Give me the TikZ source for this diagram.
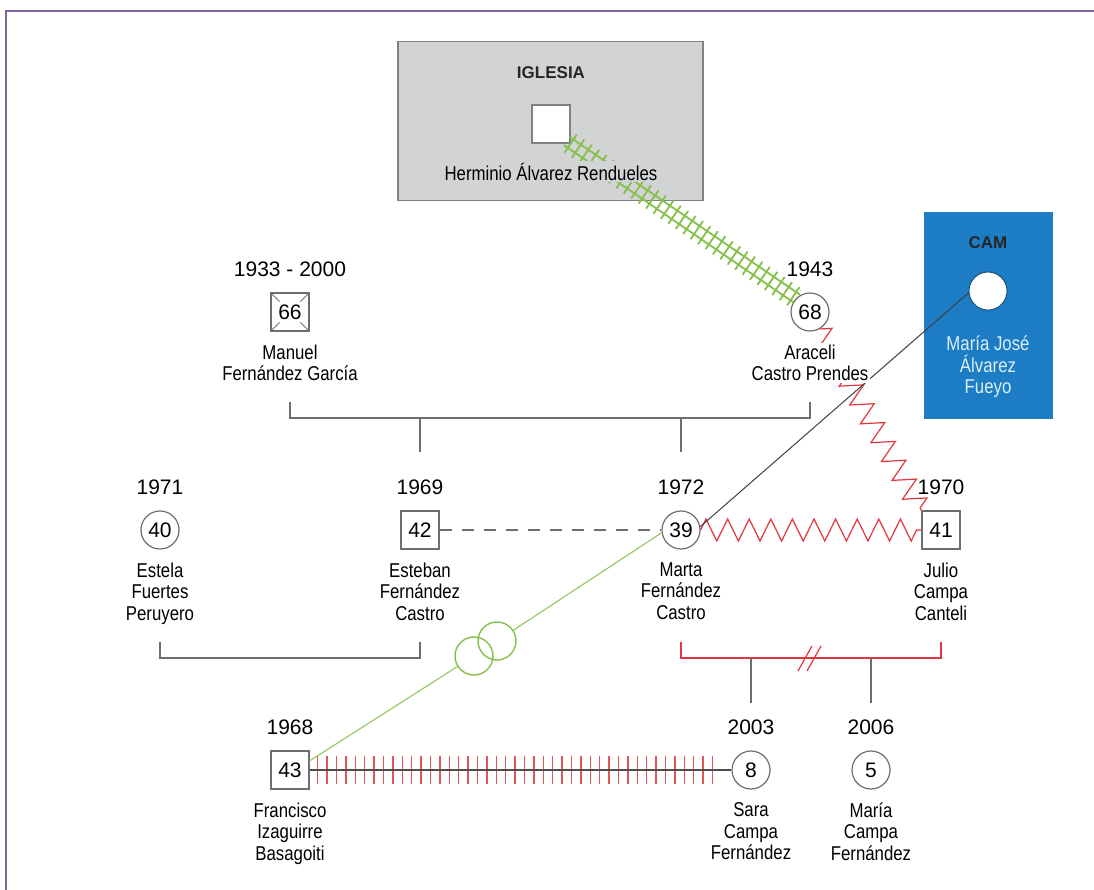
\documentclass[tikz,border=0pt]{standalone}
\usepackage{fontspec}
\setmainfont{Liberation Sans}
\newfontfamily\namefont[FakeStretch=0.84]{Liberation Sans}
\usetikzlibrary{positioning,calc,decorations.pathmorphing,decorations.markings}

\definecolor{framepurple}{HTML}{8064A2}
\definecolor{linegray}{HTML}{6D6E71}
\definecolor{boxgray}{HTML}{D1D3D4}
\definecolor{boxedge}{HTML}{808285}
\definecolor{camblue}{HTML}{1C7DC4}
\definecolor{camtext}{HTML}{DCEEFA}
\definecolor{linkred}{HTML}{E2363D}
\definecolor{linkgreen}{HTML}{86C04A}

\tikzset{
	person/.style={draw=linegray,line width=0.6pt,fill=white,inner sep=0pt,font=\fontsize{10.5}{12}\selectfont},
	male/.style={person,rectangle,minimum size=19pt},
	female/.style={person,circle,minimum size=19pt},
	deceased/.style={male,path picture={
		\foreach \c in {north west,north east,south east,south west}
			\draw [linegray,line width=0.5pt] (path picture bounding box.\c) -- ($(path picture bounding box.\c)!0.45!(path picture bounding box.center)$);}},
	year/.style={inner sep=0pt,font=\fontsize{10.5}{12}\selectfont},
	persname/.style={inner sep=1pt,fill=white,align=center,font=\namefont\fontsize{10}{10.75}\selectfont},
	institution/.style={rectangle,inner sep=0pt},
	boxtitle/.style={inner sep=0pt,text=black!85,font=\bfseries\fontsize{8.5}{10}\selectfont},
	famline/.style={draw=linegray,line width=0.6pt},
	conflict/.style={draw=linkred,line width=0.6pt,decorate,decoration={zigzag,segment length=10.8pt,amplitude=5.5pt}},
	distant/.style={draw=linegray,line width=0.6pt,dash pattern=on 6pt off 5pt},
	contact/.style={draw=black!75,line width=0.5pt},
	bond/.style={draw=linkgreen!85,line width=0.6pt},
	ring/.style={circle,draw=linkgreen,line width=0.7pt,minimum size=19pt,inner sep=0pt},
	hatched/.style={decorate,decoration={markings,
		mark=between positions 0 and 1 step 4.5pt with {
			\draw [linkgreen,line width=0.9pt] (-2.3pt,-2.5pt) -- (2.3pt,-2.5pt) (-2.3pt,2.5pt) -- (2.3pt,2.5pt) (0,-5.5pt) -- (0,5.5pt);}}},
	abuse/.style={draw=black!70,line width=0.6pt,
		preaction={decorate,decoration={markings,
			mark=between positions 4pt and -5pt step 4.7pt with {\draw [linkred!85,line width=0.7pt] (0,-7pt) -- (0,7pt);}}}}
}

\begin{document}
\begin{tikzpicture}[x=0.5pt,y=-0.5pt]
	\useasboundingbox (0,0) rectangle (1094,890);
	% Frame:
	\draw [framepurple,line width=1pt] (1094,11) -- (6,11) -- (6,890);

	% Institutions:
	\node [institution,fill=boxgray,draw=boxedge,line width=0.6pt,minimum width=152.5pt,minimum height=79.5pt] (iglesia) at (550.5,121) {};
	\node [institution,fill=camblue,minimum width=64.5pt,minimum height=103.5pt] (cam) at (988.5,315.5) {};
	\node [boxtitle] (tiglesia) at (551,73) {IGLESIA};
	\node [boxtitle] (tcam) at (988,243) {CAM};

	% People:
	\node [male,draw=boxedge] (herm) at (551,124) {};
	\node [female,draw=camblue!50!black,line width=0.4pt] (mjaf) at (988,291) {};
	\node [deceased] (p66) at (290,312) {66};
	\node [female] (p68) at (810,312) {68};
	\node [female] (p40) at (160,530) {40};
	\node [male] (p42) at (420,530) {42};
	\node [female] (p39) at (681,530) {39};
	\node [male] (p41) at (941,530) {41};
	\node [male] (p43) at (290,770) {43};
	\node [female] (p8) at (751,770) {8};
	\node [female] (p5) at (871,770) {5};

	% Family lines:
	\draw [famline] (p66 |- 0,402) -- (p66 |- 0,418) -| (p68 |- 0,402);
	\draw [famline] (p42 |- 0,418) -- (p42 |- 0,452);
	\draw [famline] (p39 |- 0,418) -- (p39 |- 0,452);
	\draw [famline] (p40 |- 0,642) -- (p40 |- 0,658) -| (p42 |- 0,642);
	\draw [famline,draw=linkred] (p39 |- 0,642) -- (p39 |- 0,658) -- coordinate (div) (p41 |- 0,658) -- (p41 |- 0,642);
	\draw [linkred,line width=0.6pt] (div) ++(-13,13) -- ++(14,-25) (div) ++(-4,13) -- ++(14,-25);
	\draw [famline] (p8 |- 0,658) -- (p8 |- 0,703);
	\draw [famline] (p5 |- 0,658) -- (p5 |- 0,703);

	% Relations:
	\path [hatched] (herm.south east) -- (p68.135);
	\draw [conflict] (p68.-60) -- (p41.north west);
	\draw [conflict] (p39.east) -- (p41.west);
	\draw [distant] (p42.east) -- (p39.west);
	\draw [contact] (p39.10) -- (mjaf.185);
	\node [ring] (r1) at (474,656) {};
	\node [ring] (r2) at (497,641) {};
	\draw [bond] (p43.25) -- (r1);
	\draw [bond] (r2) -- (p39.188);
	\draw [abuse] (p43.east) -- (p8.west);

	% Years and names:
	\node [persname,fill=boxgray,anchor=base] (nherm) at (551,180) {Herminio Álvarez Rendueles};
	\node [persname,fill=none,text=camtext,below=11.5pt of mjaf] (nmjaf) {María José\\Álvarez\\Fueyo};

	\node [year,above=7.5pt of p66] (y66) {1933 - 2000};
	\node [persname,below=5.3pt of p66] (n66) {Manuel\\Fernández García};
	\node [year,above=7.5pt of p68] (y68) {1943};
	\node [persname,below=5.3pt of p68] (n68) {Araceli\\Castro Prendes};

	\node [year,above=7.5pt of p40] (y40) {1971};
	\node [persname,below=5.3pt of p40] (n40) {Estela\\Fuertes\\Peruyero};
	\node [year,above=7.5pt of p42] (y42) {1969};
	\node [persname,below=5.3pt of p42] (n42) {Esteban\\Fernández\\Castro};
	\node [year,above=7.5pt of p39] (y39) {1972};
	\node [persname,below=5.3pt of p39] (n39) {Marta\\Fernández\\Castro};
	\node [year,above=7.5pt of p41] (y41) {1970};
	\node [persname,below=5.3pt of p41] (n41) {Julio\\Campa\\Canteli};

	\node [year,above=7.5pt of p43] (y43) {1968};
	\node [persname,below=5.3pt of p43] (n43) {Francisco\\Izaguirre\\Basagoiti};
	\node [year,above=7.5pt of p8] (y8) {2003};
	\node [persname,below=5.3pt of p8] (n8) {Sara\\Campa\\Fernández};
	\node [year,above=7.5pt of p5] (y5) {2006};
	\node [persname,below=5.3pt of p5] (n5) {María\\Campa\\Fernández};
\end{tikzpicture}
\end{document}
